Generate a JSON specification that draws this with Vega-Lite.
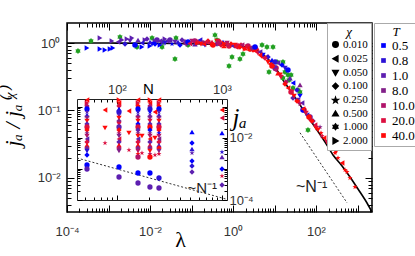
{
"$schema":"https://vega.github.io/schema/vega-lite/v6.json",
"width":305,"height":189,
"autosize":{"type":"none"},
"padding":{"left":67,"top":23,"right":43,"bottom":44},
"config":{
 "view":{"stroke":"black","strokeWidth":1.5},
 "axis":{"labelFont":"Liberation Sans","labelFontSize":13,"labelColor":"#333","tickColor":"black","tickWidth":1,"domainColor":"black","grid":false,"labelFlush":false,"labelOverlap":false,"labelBound":false,"titleFontWeight":"normal","titleColor":"black"},
 "legend":{"orient":"none","strokeColor":"#aaa","fillColor":"white","padding":3,"titlePadding":0,"labelColor":"black","titleColor":"black","titleFont":"Liberation Serif","titleFontStyle":"italic","titleFontWeight":"normal","titleFontSize":13,"labelFont":"Liberation Serif","labelOffset":2,"titleAnchor":"middle"}
},
"datasets":{
 "curve":[{"l":0.0001,"j":1.0},{"l":0.001,"j":0.998},{"l":0.01,"j":0.993},{"l":0.0921,"j":0.976},{"l":0.312,"j":0.956},{"l":1,"j":0.912},{"l":2.57,"j":0.843},{"l":4.0,"j":0.761},{"l":6.59,"j":0.599},{"l":10.3,"j":0.441},{"l":16.0,"j":0.283},{"l":26.4,"j":0.182},{"l":41.1,"j":0.121},{"l":64.1,"j":0.0801},{"l":105.7,"j":0.0515},{"l":165,"j":0.0341},{"l":257,"j":0.0219},{"l":424,"j":0.0151},{"l":659,"j":0.01035},{"l":1028,"j":0.00687},{"l":1694,"j":0.00426},{"l":2234,"j":0.00313}],
 "dash":[{"l":41.1,"j":0.0468},{"l":562,"j":0.00427}],
 "lbl":[{"l":33.0,"j":0.00621,"t":"~N⁻¹"}],
 "green":[{"l":0.000184,"j":0.761},{"l":0.000379,"j":1.071},{"l":0.00189,"j":1.23},{"l":0.00486,"j":0.873},{"l":0.0112,"j":1.186},{"l":0.0206,"j":1.035},{"l":0.0195,"j":0.873},{"l":0.0423,"j":1.186},{"l":0.04,"j":0.579},{"l":0.0824,"j":0.934},{"l":0.368,"j":1.31},{"l":0.411,"j":1.108},{"l":0.946,"j":0.62},{"l":0.801,"j":0.456},{"l":1.47,"j":0.579},{"l":1.74,"j":0.687},{"l":2.57,"j":0.815},{"l":5.0,"j":0.934},{"l":6.59,"j":0.873},{"l":7.37,"j":0.372},{"l":9.2,"j":0.873},{"l":11.5,"j":0.523},{"l":16.0,"j":0.523},{"l":17.9,"j":0.372},{"l":21.1,"j":0.336},{"l":16.0,"j":0.303},{"l":22.4,"j":0.283},{"l":25.0,"j":0.336},{"l":27.9,"j":0.215},{"l":36.8,"j":0.201},{"l":41.1,"j":0.188},{"l":64.1,"j":0.0515}],
 "main":[
 {"l":0.000303,"j":0.843,"T":"0.5","c":"2.000"},{"l":0.000624,"j":0.815,"T":"0.5","c":"2.000"},{"l":0.000824,"j":0.788,"T":"0.5","c":"2.000"},{"l":0.00109,"j":0.815,"T":"0.5","c":"2.000"},{"l":0.00128,"j":0.843,"T":"0.5","c":"2.000"},{"l":0.00641,"j":0.873,"T":"0.5","c":"2.000"},{"l":0.01,"j":0.903,"T":"0.5","c":"2.000"},{"l":0.0174,"j":0.934,"T":"0.5","c":"2.000"},
 {"l":0.000624,"j":1.186,"T":"1.0","c":"2.000"},{"l":0.00121,"j":1.071,"T":"1.0","c":"2.000"},{"l":0.00211,"j":1.108,"T":"1.0","c":"2.000"},{"l":0.00279,"j":1.146,"T":"1.0","c":"2.000"},{"l":0.00368,"j":1.186,"T":"1.0","c":"2.000"},{"l":0.00758,"j":1.108,"T":"1.0","c":"2.000"},{"l":0.0132,"j":1.071,"T":"1.0","c":"2.000"},{"l":0.023,"j":1.146,"T":"1.0","c":"2.000"},
 {"l":0.00169,"j":1.035,"T":"1.0","c":"0.025"},{"l":0.0025,"j":0.966,"T":"0.8","c":"0.100"},{"l":0.0033,"j":1.071,"T":"1.0","c":"0.050"},{"l":0.00435,"j":0.934,"T":"0.5","c":"0.010"},{"l":0.00514,"j":1.108,"T":"1.0","c":"0.500"},{"l":0.00641,"j":1.0,"T":"0.8","c":"0.025"},{"l":0.00847,"j":1.146,"T":"1.0","c":"0.100"},{"l":0.0112,"j":0.966,"T":"0.5","c":"0.050"},{"l":0.0147,"j":1.108,"T":"1.0","c":"0.010"},{"l":0.0195,"j":1.0,"T":"0.8","c":"0.250"},{"l":0.0257,"j":1.071,"T":"1.0","c":"0.025"},{"l":0.04,"j":1.035,"T":"1.0","c":"0.050"},{"l":0.0528,"j":0.934,"T":"0.5","c":"0.100"},{"l":0.0697,"j":1.071,"T":"8.0","c":"0.500"},{"l":0.0921,"j":1.0,"T":"1.0","c":"0.025"},{"l":0.121,"j":1.071,"T":"10.0","c":"0.010"},
 {"l":0.01,"j":1.035,"T":"0.8","c":"0.500"},{"l":0.0132,"j":0.966,"T":"0.5","c":"0.100"},{"l":0.0174,"j":1.071,"T":"1.0","c":"0.025"},{"l":0.023,"j":1.0,"T":"0.8","c":"0.050"},{"l":0.0303,"j":1.108,"T":"1.0","c":"0.010"},{"l":0.0339,"j":0.966,"T":"0.5","c":"0.250"},{"l":0.0473,"j":1.035,"T":"0.8","c":"0.500"},{"l":0.059,"j":1.108,"T":"1.0","c":"0.100"},{"l":0.0697,"j":0.966,"T":"8.0","c":"0.025"},{"l":0.0824,"j":1.035,"T":"0.5","c":"0.010"},{"l":0.103,"j":1.071,"T":"10.0","c":"0.050"},{"l":0.121,"j":0.966,"T":"1.0","c":"0.500"},{"l":0.143,"j":1.035,"T":"20.0","c":"0.100"},{"l":0.16,"j":1.108,"T":"0.8","c":"0.025"},{"l":0.189,"j":1.0,"T":"8.0","c":"0.010"},{"l":0.211,"j":0.934,"T":"0.5","c":"0.050"},{"l":0.25,"j":1.071,"T":"40.0","c":"0.100"},{"l":0.279,"j":1.0,"T":"10.0","c":"0.250"},{"l":0.312,"j":1.035,"T":"20.0","c":"0.500"},{"l":0.368,"j":0.966,"T":"1.0","c":"0.025"},{"l":0.411,"j":1.071,"T":"40.0","c":"0.050"},{"l":0.46,"j":1.0,"T":"8.0","c":"0.010"},{"l":0.514,"j":0.934,"T":"20.0","c":"0.100"},{"l":0.574,"j":1.035,"T":"0.5","c":"0.500"},{"l":0.641,"j":0.966,"T":"40.0","c":"0.025"},{"l":0.717,"j":1.0,"T":"10.0","c":"0.050"},{"l":0.801,"j":0.903,"T":"20.0","c":"0.010"},{"l":0.895,"j":0.966,"T":"40.0","c":"0.100"},{"l":1.0,"j":0.903,"T":"1.0","c":"0.025"},
 {"l":0.2,"j":0.966,"T":"40.0","c":"0.025"},{"l":0.3,"j":0.95,"T":"40.0","c":"0.250"},{"l":0.45,"j":1.05,"T":"20.0","c":"0.010"},{"l":0.6,"j":0.99,"T":"40.0","c":"2.000"},{"l":0.75,"j":0.95,"T":"10.0","c":"0.100"},{"l":0.13,"j":0.99,"T":"40.0","c":"0.250"},{"l":0.09,"j":0.98,"T":"20.0","c":"0.025"},
 {"l":0.169,"j":0.966,"T":"40.0","c":"0.050"},{"l":0.224,"j":1.035,"T":"20.0","c":"0.025"},{"l":0.33,"j":0.934,"T":"40.0","c":"0.010"},{"l":0.435,"j":1.0,"T":"10.0","c":"0.100"},{"l":0.607,"j":0.903,"T":"40.0","c":"0.500"},{"l":0.758,"j":0.966,"T":"20.0","c":"0.250"},{"l":1.18,"j":0.873,"T":"40.0","c":"0.025"},{"l":1.56,"j":0.934,"T":"20.0","c":"0.100"},{"l":1.84,"j":0.815,"T":"40.0","c":"0.050"},{"l":2.3,"j":0.903,"T":"10.0","c":"0.010"},{"l":3.03,"j":0.788,"T":"40.0","c":"0.100"},{"l":3.79,"j":0.843,"T":"20.0","c":"0.500"},{"l":5.0,"j":0.642,"T":"40.0","c":"0.100"},{"l":6.24,"j":0.62,"T":"20.0","c":"0.025"},{"l":7.79,"j":0.489,"T":"40.0","c":"0.025"},{"l":10.9,"j":0.426,"T":"20.0","c":"0.010"},{"l":13.6,"j":0.336,"T":"40.0","c":"0.050"},{"l":18.9,"j":0.264,"T":"10.0","c":"0.100"},{"l":26.4,"j":0.194,"T":"40.0","c":"0.250"},{"l":36.8,"j":0.134,"T":"20.0","c":"0.025"},{"l":51.4,"j":0.102,"T":"40.0","c":"0.010"},{"l":75.8,"j":0.0723,"T":"20.0","c":"0.100"},{"l":100,"j":0.055,"T":"40.0","c":"0.050"},{"l":140,"j":0.0419,"T":"20.0","c":"0.250"},{"l":195,"j":0.033,"T":"40.0","c":"0.025"},{"l":303,"j":0.0243,"T":"40.0","c":"0.050"},{"l":558,"j":0.0123,"T":"40.0","c":"0.250"},
 {"l":1.12,"j":0.934,"T":"40.0","c":"0.050"},{"l":1.32,"j":0.903,"T":"20.0","c":"0.010"},{"l":1.47,"j":0.873,"T":"40.0","c":"0.100"},{"l":1.65,"j":0.934,"T":"10.0","c":"0.025"},{"l":1.95,"j":0.843,"T":"40.0","c":"0.500"},{"l":2.17,"j":0.873,"T":"20.0","c":"0.050"},{"l":2.57,"j":0.815,"T":"40.0","c":"0.010"},{"l":2.87,"j":0.843,"T":"8.0","c":"0.100"},{"l":3.39,"j":0.761,"T":"40.0","c":"0.025"},{"l":4.0,"j":0.711,"T":"20.0","c":"0.050"},
 {"l":3.39,"j":0.873,"T":"0.5","c":"0.010"},{"l":4.47,"j":0.736,"T":"1.0","c":"0.025"},{"l":5.28,"j":0.664,"T":"0.5","c":"0.050"},{"l":6.97,"j":0.62,"T":"0.8","c":"0.100"},{"l":8.71,"j":0.56,"T":"0.5","c":"0.500"},{"l":10.3,"j":0.523,"T":"0.8","c":"0.010"},{"l":12.1,"j":0.505,"T":"1.0","c":"0.025"},{"l":15.2,"j":0.472,"T":"0.5","c":"0.100"},{"l":17.9,"j":0.426,"T":"0.8","c":"0.050"},{"l":21.1,"j":0.398,"T":"0.5","c":"0.010"},{"l":23.6,"j":0.303,"T":"1.0","c":"0.500"},{"l":27.9,"j":0.255,"T":"0.5","c":"0.025"},{"l":34.8,"j":0.201,"T":"0.8","c":"0.100"},{"l":41.1,"j":0.164,"T":"0.5","c":"0.050"},{"l":48.6,"j":0.102,"T":"0.5","c":"0.010"},{"l":60.7,"j":0.086,"T":"0.8","c":"0.025"},{"l":10.3,"j":0.426,"T":"1.0","c":"0.010"},{"l":27.9,"j":0.153,"T":"1.0","c":"0.100"},{"l":36.8,"j":0.143,"T":"1.0","c":"0.050"},{"l":46.0,"j":0.129,"T":"1.0","c":"0.025"},{"l":71.7,"j":0.08,"T":"1.0","c":"0.010"},{"l":84.7,"j":0.0699,"T":"8.0","c":"0.100"},{"l":125,"j":0.0568,"T":"8.0","c":"0.250"},{"l":41.1,"j":0.239,"T":"8.0","c":"0.500"},
 {"l":4.47,"j":0.664,"T":"40.0","c":"0.025"},{"l":5.9,"j":0.599,"T":"20.0","c":"0.100"},{"l":6.97,"j":0.523,"T":"40.0","c":"0.050"},{"l":8.71,"j":0.456,"T":"40.0","c":"0.010"},{"l":10.3,"j":0.398,"T":"10.0","c":"0.025"},{"l":12.1,"j":0.359,"T":"40.0","c":"0.500"},{"l":14.3,"j":0.313,"T":"20.0","c":"0.050"},{"l":17.9,"j":0.247,"T":"40.0","c":"0.100"},{"l":21.1,"j":0.215,"T":"40.0","c":"0.025"},{"l":25.0,"j":0.188,"T":"20.0","c":"0.010"},{"l":29.5,"j":0.164,"T":"40.0","c":"0.050"},{"l":34.8,"j":0.138,"T":"40.0","c":"0.100"},{"l":41.1,"j":0.125,"T":"10.0","c":"0.250"},{"l":48.6,"j":0.105,"T":"40.0","c":"0.025"},{"l":57.4,"j":0.0918,"T":"20.0","c":"0.050"},{"l":67.8,"j":0.08,"T":"40.0","c":"0.010"},{"l":80.1,"j":0.0699,"T":"40.0","c":"0.100"},{"l":94.6,"j":0.061,"T":"20.0","c":"0.025"},{"l":112,"j":0.0515,"T":"40.0","c":"0.050"},{"l":132,"j":0.0464,"T":"40.0","c":"0.250"},{"l":156,"j":0.0391,"T":"40.0","c":"0.025"},{"l":184,"j":0.0341,"T":"20.0","c":"0.050"},{"l":217,"j":0.0298,"T":"40.0","c":"0.100"},{"l":243,"j":0.0309,"T":"40.0","c":"0.050"},{"l":287,"j":0.0235,"T":"40.0","c":"0.250"},{"l":339,"j":0.0198,"T":"40.0","c":"0.250"},{"l":424,"j":0.0167,"T":"40.0","c":"0.025"},{"l":500,"j":0.0132,"T":"40.0","c":"0.250"},{"l":659,"j":0.01,"T":"40.0","c":"0.250"},{"l":871,"j":0.00736,"T":"40.0","c":"0.250"}
 ],
 "idash":[{"N":41.6,"j":0.00227},{"N":1116,"j":0.000105}],
 "inset":[
 {"N":51.8,"j":0.168,"T":"40.0","c":"0.025"},{"N":51.8,"j":0.1346,"T":"20.0","c":"2.000"},{"N":51.8,"j":0.1076,"T":"10.0","c":"0.100"},{"N":51.8,"j":0.0861,"T":"0.5","c":"0.010"},{"N":51.8,"j":0.069,"T":"1.0","c":"0.250"},{"N":51.8,"j":0.0552,"T":"0.8","c":"0.500"},{"N":51.8,"j":0.0442,"T":"8.0","c":"0.050"},{"N":51.8,"j":0.0353,"T":"40.0","c":"0.050"},{"N":51.8,"j":0.0283,"T":"1.0","c":"0.100"},{"N":51.8,"j":0.0226,"T":"20.0","c":"0.010"},{"N":51.8,"j":0.0181,"T":"40.0","c":"0.100"},{"N":51.8,"j":0.0145,"T":"8.0","c":"0.250"},{"N":51.8,"j":0.0116,"T":"10.0","c":"0.050"},{"N":51.8,"j":0.00929,"T":"1.0","c":"0.025"},{"N":51.8,"j":0.00743,"T":"20.0","c":"0.100"},{"N":51.8,"j":0.00594,"T":"40.0","c":"0.500"},{"N":51.8,"j":0.00476,"T":"8.0","c":"0.100"},{"N":51.8,"j":0.00381,"T":"0.8","c":"0.050"},{"N":51.8,"j":0.00283,"T":"0.5","c":"0.100"},{"N":51.8,"j":0.00135,"T":"0.5","c":"0.010"},{"N":51.8,"j":0.001,"T":"1.0","c":"0.010"},
 {"N":104.5,"j":0.168,"T":"40.0","c":"2.000"},{"N":104.5,"j":0.1346,"T":"40.0","c":"0.025"},{"N":104.5,"j":0.1076,"T":"20.0","c":"0.100"},{"N":104.5,"j":0.0861,"T":"0.5","c":"0.500"},{"N":104.5,"j":0.069,"T":"0.8","c":"0.010"},{"N":104.5,"j":0.0552,"T":"1.0","c":"0.250"},{"N":104.5,"j":0.0442,"T":"40.0","c":"0.050"},{"N":104.5,"j":0.0353,"T":"8.0","c":"0.100"},{"N":104.5,"j":0.0283,"T":"20.0","c":"0.050"},{"N":104.5,"j":0.0226,"T":"1.0","c":"0.010"},{"N":104.5,"j":0.0181,"T":"40.0","c":"0.100"},{"N":104.5,"j":0.0145,"T":"10.0","c":"0.250"},{"N":104.5,"j":0.0116,"T":"8.0","c":"0.050"},{"N":104.5,"j":0.00929,"T":"20.0","c":"0.025"},{"N":104.5,"j":0.00743,"T":"1.0","c":"0.100"},{"N":104.5,"j":0.00594,"T":"40.0","c":"0.500"},{"N":104.5,"j":0.00476,"T":"10.0","c":"0.100"},{"N":104.5,"j":0.00381,"T":"8.0","c":"0.050"},{"N":104.5,"j":0.00116,"T":"0.5","c":"0.010"},{"N":104.5,"j":0.000552,"T":"1.0","c":"0.010"},
 {"N":158.5,"j":0.168,"T":"40.0","c":"0.025"},{"N":158.5,"j":0.1346,"T":"20.0","c":"2.000"},{"N":158.5,"j":0.1076,"T":"40.0","c":"0.100"},{"N":158.5,"j":0.0861,"T":"0.5","c":"0.010"},{"N":158.5,"j":0.069,"T":"0.8","c":"0.250"},{"N":158.5,"j":0.0552,"T":"1.0","c":"0.500"},{"N":158.5,"j":0.0442,"T":"10.0","c":"0.050"},{"N":158.5,"j":0.0353,"T":"40.0","c":"0.050"},{"N":158.5,"j":0.0283,"T":"0.5","c":"0.100"},{"N":158.5,"j":0.0226,"T":"20.0","c":"0.010"},{"N":158.5,"j":0.0181,"T":"1.0","c":"0.100"},{"N":158.5,"j":0.0145,"T":"8.0","c":"0.250"},{"N":158.5,"j":0.0116,"T":"40.0","c":"0.050"},{"N":158.5,"j":0.00929,"T":"1.0","c":"0.025"},{"N":158.5,"j":0.00743,"T":"20.0","c":"0.100"},{"N":158.5,"j":0.00594,"T":"40.0","c":"0.500"},{"N":158.5,"j":0.00476,"T":"8.0","c":"0.100"},{"N":158.5,"j":0.00381,"T":"10.0","c":"0.050"},{"N":158.5,"j":0.00305,"T":"40.0","c":"0.250"},{"N":158.5,"j":0.00244,"T":"10.0","c":"0.010"},{"N":158.5,"j":0.000743,"T":"0.5","c":"0.010"},{"N":158.5,"j":0.000353,"T":"1.0","c":"0.010"},
 {"N":206,"j":0.168,"T":"40.0","c":"2.000"},{"N":206,"j":0.1346,"T":"40.0","c":"0.025"},{"N":206,"j":0.1076,"T":"10.0","c":"0.100"},{"N":206,"j":0.0861,"T":"0.8","c":"0.010"},{"N":206,"j":0.069,"T":"0.5","c":"0.250"},{"N":206,"j":0.0552,"T":"1.0","c":"0.500"},{"N":206,"j":0.0442,"T":"8.0","c":"0.050"},{"N":206,"j":0.0353,"T":"20.0","c":"0.050"},{"N":206,"j":0.0283,"T":"1.0","c":"0.100"},{"N":206,"j":0.0226,"T":"40.0","c":"0.010"},{"N":206,"j":0.0181,"T":"0.5","c":"0.100"},{"N":206,"j":0.0145,"T":"8.0","c":"0.250"},{"N":206,"j":0.0116,"T":"10.0","c":"0.050"},{"N":206,"j":0.00929,"T":"40.0","c":"0.025"},{"N":206,"j":0.00743,"T":"1.0","c":"0.100"},{"N":206,"j":0.00594,"T":"20.0","c":"0.500"},{"N":206,"j":0.00476,"T":"8.0","c":"0.100"},{"N":206,"j":0.00381,"T":"40.0","c":"0.050"},{"N":206,"j":0.00305,"T":"10.0","c":"0.250"},{"N":206,"j":0.00244,"T":"40.0","c":"0.010"},{"N":206,"j":0.000743,"T":"0.5","c":"0.010"},{"N":206,"j":0.000263,"T":"1.0","c":"0.010"},
 {"N":251,"j":0.168,"T":"40.0","c":"0.025"},{"N":251,"j":0.1346,"T":"20.0","c":"2.000"},{"N":251,"j":0.1076,"T":"40.0","c":"0.100"},{"N":251,"j":0.0861,"T":"0.5","c":"0.010"},{"N":251,"j":0.069,"T":"1.0","c":"0.250"},{"N":251,"j":0.0552,"T":"0.8","c":"0.500"},{"N":251,"j":0.0442,"T":"8.0","c":"0.050"},{"N":251,"j":0.0353,"T":"40.0","c":"0.050"},{"N":251,"j":0.0283,"T":"1.0","c":"0.100"},{"N":251,"j":0.0226,"T":"20.0","c":"0.010"},{"N":251,"j":0.0181,"T":"40.0","c":"0.100"},{"N":251,"j":0.0145,"T":"0.5","c":"0.250"},{"N":251,"j":0.0116,"T":"10.0","c":"0.050"},{"N":251,"j":0.00929,"T":"8.0","c":"0.025"},{"N":251,"j":0.00743,"T":"20.0","c":"0.100"},{"N":251,"j":0.00594,"T":"1.0","c":"0.500"},{"N":251,"j":0.00476,"T":"40.0","c":"0.100"},{"N":251,"j":0.00381,"T":"8.0","c":"0.050"},{"N":251,"j":0.00305,"T":"20.0","c":"0.250"},{"N":251,"j":0.000513,"T":"0.8","c":"0.010"},{"N":251,"j":0.000244,"T":"1.0","c":"0.010"},
 {"N":518,"j":0.0156,"T":"0.5","c":"0.500"},{"N":518,"j":0.0069,"T":"0.5","c":"0.100"},{"N":518,"j":0.00442,"T":"0.8","c":"0.500"},{"N":518,"j":0.00328,"T":"1.0","c":"0.250"},{"N":518,"j":0.00181,"T":"0.5","c":"0.100"},{"N":518,"j":0.00125,"T":"0.8","c":"0.100"},{"N":518,"j":0.0008,"T":"1.0","c":"0.100"},
 {"N":1000,"j":0.08,"T":"40.0","c":"0.025"},{"N":1000,"j":0.0442,"T":"20.0","c":"0.025"},{"N":1000,"j":0.0145,"T":"0.5","c":"0.500"},{"N":1000,"j":0.00353,"T":"0.8","c":"0.250"},{"N":1000,"j":0.00244,"T":"1.0","c":"0.500"},{"N":1000,"j":0.001,"T":"0.5","c":"0.100"},{"N":1000,"j":0.000595,"T":"20.0","c":"0.250"},{"N":1000,"j":0.000305,"T":"1.0","c":"0.100"},
 {"N":76.9,"j":0.08,"T":"40.0","c":"0.025"},{"N":76.9,"j":0.021,"T":"40.0","c":"0.050"},{"N":76.9,"j":0.0069,"T":"20.0","c":"0.250"},
 {"N":130,"j":0.0743,"T":"40.0","c":"0.025"},{"N":130,"j":0.0145,"T":"40.0","c":"0.050"},{"N":130,"j":0.0041,"T":"20.0","c":"0.250"},
 {"N":173,"j":0.0116,"T":"40.0","c":"0.050"},{"N":173,"j":0.00328,"T":"20.0","c":"0.250"},
 {"N":230,"j":0.069,"T":"40.0","c":"0.025"},{"N":230,"j":0.01,"T":"40.0","c":"0.050"},{"N":230,"j":0.00283,"T":"20.0","c":"0.250"}
 ]
},
"layer":[
 {"data":{"name":"curve"},"mark":{"type":"line","color":"black","strokeWidth":1.6,"interpolate":"monotone"},
  "encoding":{
   "x":{"field":"l","type":"quantitative","scale":{"type":"log","domain":[0.0001,2234],"nice":false},
    "axis":{"orient":"bottom","domain":false,"values":[0.0001,0.0002,0.0003,0.0004,0.0005,0.0006,0.0007,0.0008,0.0009,0.001,0.002,0.003,0.004,0.005,0.006,0.007,0.008,0.009,0.01,0.02,0.03,0.04,0.05,0.06,0.07,0.08,0.09,0.1,0.2,0.3,0.4,0.5,0.6,0.7,0.8,0.9,1,2,3,4,5,6,7,8,9,10,20,30,40,50,60,70,80,90,100,200,300,400,500,600,700,800,900,1000,2000],
     "labelExpr":"datum.value==0.0001?'10⁻⁴':datum.value==0.01?'10⁻²':datum.value==1?'10⁰':datum.value==100?'10²':''",
     "tickSize":{"condition":{"test":"abs(log(datum.value)/LN10-round(log(datum.value)/LN10))<0.001","value":-7},"value":-4},
     "labelPadding":20,"title":"λ","titleFont":"Liberation Serif","titleFontSize":22,"titleX":113,"titleY":34,"titleBaseline":"alphabetic","titleAlign":"center"}},
   "y":{"field":"j","type":"quantitative","scale":{"type":"log","domain":[0.003134,1.979],"nice":false},
    "axis":{"orient":"left","domain":false,"values":[0.004,0.005,0.006,0.007,0.008,0.009,0.01,0.02,0.03,0.04,0.05,0.06,0.07,0.08,0.09,0.1,0.2,0.3,0.4,0.5,0.6,0.7,0.8,0.9,1],
     "labelExpr":"datum.value==1?'10⁰':datum.value==0.1?'10⁻¹':datum.value==0.01?'10⁻²':''",
     "tickSize":{"condition":{"test":"abs(log(datum.value)/LN10-round(log(datum.value)/LN10))<0.001","value":-7},"value":-4},
     "labelPadding":14,"title":"jₐ / jₐ⁽ᵡ⁾","titleFont":"Liberation Serif","titleFontStyle":"italic","titleFontSize":22,"titleAngle":270,"titleX":-48,"titleY":94,"titleBaseline":"alphabetic","titleAlign":"center"}}
  }},
 {"data":{"name":"green"},"mark":{"type":"point","filled":true,"opacity":1,"size":36,"color":"#22a022","shape":"M0,-1L0.33,-0.57L0.87,-0.5L0.65,0L0.87,0.5L0.33,0.57L0,1L-0.33,0.57L-0.87,0.5L-0.65,0L-0.87,-0.5L-0.33,-0.57Z"},
  "encoding":{
   "x":{"field":"l","type":"quantitative","scale":{"type":"log","domain":[0.0001,2234],"nice":false},
    "axis":{"orient":"top","domain":false,"labels":false,"title":null,"values":[0.0001,0.0002,0.0003,0.0004,0.0005,0.0006,0.0007,0.0008,0.0009,0.001,0.002,0.003,0.004,0.005,0.006,0.007,0.008,0.009,0.01,0.02,0.03,0.04,0.05,0.06,0.07,0.08,0.09,0.1,0.2,0.3,0.4,0.5,0.6,0.7,0.8,0.9,1,2,3,4,5,6,7,8,9,10,20,30,40,50,60,70,80,90,100,200,300,400,500,600,700,800,900,1000,2000],
     "tickSize":{"condition":{"test":"abs(log(datum.value)/LN10-round(log(datum.value)/LN10))<0.001","value":-7},"value":-4}}},
   "y":{"field":"j","type":"quantitative","scale":{"type":"log","domain":[0.003134,1.979],"nice":false},
    "axis":{"orient":"right","domain":false,"labels":false,"title":null,"values":[0.004,0.005,0.006,0.007,0.008,0.009,0.01,0.02,0.03,0.04,0.05,0.06,0.07,0.08,0.09,0.1,0.2,0.3,0.4,0.5,0.6,0.7,0.8,0.9,1],
     "tickSize":{"condition":{"test":"abs(log(datum.value)/LN10-round(log(datum.value)/LN10))<0.001","value":-7},"value":-4}}}
  }},
 {"data":{"name":"dash"},"mark":{"type":"line","color":"#333","strokeWidth":1,"strokeDash":[2,2]},
  "encoding":{
   "x":{"field":"l","type":"quantitative","scale":{"type":"log","domain":[0.0001,2234],"nice":false},"axis":null},
   "y":{"field":"j","type":"quantitative","scale":{"type":"log","domain":[0.003134,1.979],"nice":false},"axis":null}}},
 {"data":{"name":"lbl"},"mark":{"type":"text","align":"left","baseline":"alphabetic","font":"Liberation Sans","fontSize":16,"color":"#222"},
  "encoding":{
   "x":{"field":"l","type":"quantitative","scale":{"type":"log","domain":[0.0001,2234],"nice":false},"axis":null},
   "y":{"field":"j","type":"quantitative","scale":{"type":"log","domain":[0.003134,1.979],"nice":false},"axis":null},
   "text":{"field":"t"}}},
 {"data":{"name":"main"},"mark":{"type":"point","filled":true,"opacity":1,"size":30},
  "encoding":{
   "x":{"field":"l","type":"quantitative","scale":{"type":"log","domain":[0.0001,2234],"nice":false},"axis":null},
   "y":{"field":"j","type":"quantitative","scale":{"type":"log","domain":[0.003134,1.979],"nice":false},"axis":null},
   "color":{"field":"T","type":"nominal","scale":{"domain":["0.5","0.8","1.0","8.0","10.0","20.0","40.0"],"range":["#0000ff","#2b12d6","#5d1fb0","#822089","#b0146a","#dc1040","#ff0a0a"]},
    "legend":{"title":"T","legendX":307,"legendY":0,"symbolType":"square","symbolSize":22,"labelFontSize":13,"rowPadding":1,"symbolStrokeWidth":0}},
   "shape":{"field":"c","type":"nominal","scale":{"domain":["0.010","0.025","0.050","0.100","0.250","0.500","1.000","2.000"],"range":["circle","triangle-left","triangle-down","diamond","M0,-1L0.235,-0.324L0.951,-0.309L0.38,0.124L0.588,0.809L0,0.4L-0.588,0.809L-0.38,0.124L-0.951,-0.309L-0.235,-0.324Z","triangle-up","M0,-1L0.33,-0.57L0.87,-0.5L0.65,0L0.87,0.5L0.33,0.57L0,1L-0.33,0.57L-0.87,0.5L-0.65,0L-0.87,-0.5L-0.33,-0.57Z","triangle-right"]},
    "legend":{"title":"χ","legendX":260,"legendY":0,"symbolSize":30,"labelFontSize":11,"rowPadding":1.2,"symbolFillColor":"black","symbolStrokeColor":"black","symbolBaseFillColor":"black","symbolBaseStrokeColor":"black"}}
  }},
 {"data":{"name":"idash"},"mark":{"type":"line","color":"#333","strokeWidth":1,"strokeDash":[2,2]},
  "encoding":{
   "x":{"field":"N","type":"quantitative","scale":{"type":"log","domain":[41.6,1116],"range":[10,160],"nice":false},
    "axis":{"orient":"bottom","offset":-12,"labels":false,"domain":true,"domainColor":"#222","values":[50,60,70,80,90,100,200,300,400,500,600,700,800,900,1000],
     "tickSize":{"condition":{"test":"abs(log(datum.value)/LN10-round(log(datum.value)/LN10))<0.001","value":-5},"value":-3},
     "title":"~N⁻¹","titleFont":"Liberation Sans","titleFontSize":15,"titleColor":"#222","titleX":120,"titleY":-8,"titleAlign":"left","titleBaseline":"alphabetic"}},
   "y":{"field":"j","type":"quantitative","scale":{"type":"log","domain":[0.0001,0.181],"range":[177,76],"nice":false},
    "axis":{"orient":"left","offset":-10,"labels":false,"title":null,"domain":true,"domainColor":"#222","values":[0.0001,0.0002,0.0003,0.0004,0.0005,0.0006,0.0007,0.0008,0.0009,0.001,0.002,0.003,0.004,0.005,0.006,0.007,0.008,0.009,0.01,0.02,0.03,0.04,0.05,0.06,0.07,0.08,0.09,0.1],
     "tickSize":{"condition":{"test":"abs(log(datum.value)/LN10-round(log(datum.value)/LN10))<0.001","value":-5},"value":-3}}}}},
 {"data":{"name":"inset"},"mark":{"type":"point","filled":true,"opacity":1,"size":28},
  "encoding":{
   "x":{"field":"N","type":"quantitative","scale":{"type":"log","domain":[41.6,1116],"range":[10,160],"nice":false},
    "axis":{"orient":"top","offset":-76,"domain":true,"domainColor":"#222","values":[50,60,70,80,90,100,200,300,400,500,600,700,800,900,1000],
     "labelExpr":"datum.value==100?'10²':datum.value==1000?'10³':''",
     "tickSize":{"condition":{"test":"abs(log(datum.value)/LN10-round(log(datum.value)/LN10))<0.001","value":-5},"value":-3},
     "labelPadding":8,"title":"N","titleFont":"Liberation Sans","titleFontSize":15,"titleX":81,"titleY":-6,"titleBaseline":"alphabetic","titleAlign":"center"}},
   "y":{"field":"j","type":"quantitative","scale":{"type":"log","domain":[0.0001,0.181],"range":[177,76],"nice":false},
    "axis":{"orient":"right","offset":-145,"domain":true,"domainColor":"#222","values":[0.0001,0.0002,0.0003,0.0004,0.0005,0.0006,0.0007,0.0008,0.0009,0.001,0.002,0.003,0.004,0.005,0.006,0.007,0.008,0.009,0.01,0.02,0.03,0.04,0.05,0.06,0.07,0.08,0.09,0.1],
     "labelExpr":"datum.value==0.01?'10⁻²':datum.value==0.0001?'10⁻⁴':''",
     "tickSize":{"condition":{"test":"abs(log(datum.value)/LN10-round(log(datum.value)/LN10))<0.001","value":-5},"value":-3},
     "labelPadding":7,"title":"jₐ","titleFont":"Liberation Serif","titleFontStyle":"italic","titleFontSize":25,"titleAngle":0,"titleX":5,"titleY":102,"titleBaseline":"alphabetic","titleAlign":"left"}},
   "color":{"field":"T","type":"nominal","scale":{"domain":["0.5","0.8","1.0","8.0","10.0","20.0","40.0"],"range":["#0000ff","#2b12d6","#5d1fb0","#822089","#b0146a","#dc1040","#ff0a0a"]},
    "legend":{"title":"T","legendX":307,"legendY":0,"symbolType":"square","symbolSize":22,"labelFontSize":13,"rowPadding":1,"symbolStrokeWidth":0}},
   "shape":{"field":"c","type":"nominal","scale":{"domain":["0.010","0.025","0.050","0.100","0.250","0.500","1.000","2.000"],"range":["circle","triangle-left","triangle-down","diamond","M0,-1L0.235,-0.324L0.951,-0.309L0.38,0.124L0.588,0.809L0,0.4L-0.588,0.809L-0.38,0.124L-0.951,-0.309L-0.235,-0.324Z","triangle-up","M0,-1L0.33,-0.57L0.87,-0.5L0.65,0L0.87,0.5L0.33,0.57L0,1L-0.33,0.57L-0.87,0.5L-0.65,0L-0.87,-0.5L-0.33,-0.57Z","triangle-right"]},
    "legend":{"title":"χ","legendX":260,"legendY":0,"symbolSize":30,"labelFontSize":11,"rowPadding":1.2,"symbolFillColor":"black","symbolStrokeColor":"black","symbolBaseFillColor":"black","symbolBaseStrokeColor":"black"}}
  }}
],
"resolve":{"scale":{"x":"independent","y":"independent"}}
}
